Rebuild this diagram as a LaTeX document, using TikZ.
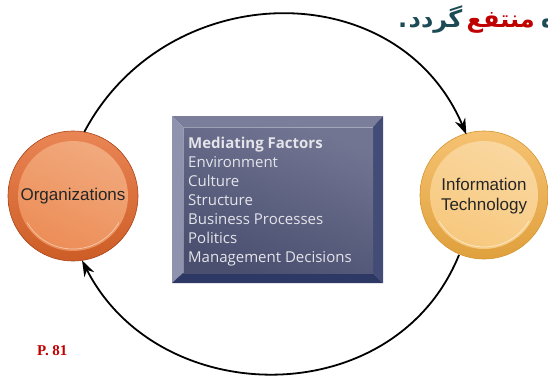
\documentclass[tikz,border=0pt]{standalone}
\usepackage{fontspec}
\setmainfont{Liberation Sans}
\newfontfamily\boxfont{Open Sans}
\newfontfamily\pagefont{Liberation Serif}
\newfontfamily\arabicfont[Script=Arabic]{DejaVu Sans}
\TeXXeTstate=1
\usetikzlibrary{arrows.meta,positioning}
\definecolor{orgring}{HTML}{E4672A}
\definecolor{orgface}{HTML}{EF9A66}
\definecolor{orgedge}{HTML}{A9461E}
\definecolor{itring}{HTML}{F3AE42}
\definecolor{itface}{HTML}{F8CD88}
\definecolor{itedge}{HTML}{D39530}
\definecolor{bevtop}{HTML}{7A7E9A}
\definecolor{bevleft}{HTML}{9093AE}
\definecolor{bevright}{HTML}{434C76}
\definecolor{bevbottom}{HTML}{2E3864}
\definecolor{facetop}{HTML}{727592}
\definecolor{facebot}{HTML}{4A4F70}
\definecolor{boxtext}{HTML}{E4E4EA}
\definecolor{pred}{HTML}{C00000}
\definecolor{pteal}{HTML}{1D4B55}

\begin{document}
\begin{tikzpicture}[x=1pt,y=-1pt,
    flow/.style={line width=1.8pt,-{Stealth[length=16pt,width=11pt]}},
    disc/.style={circle,inner sep=0pt,outer sep=0pt,minimum size=#1,align=center,
      font=\fontsize{17}{20}\selectfont,text=black!85},
    farsi/.style={inner sep=0pt,font=\arabicfont\bfseries\fontsize{24}{28}\selectfont}]
  \useasboundingbox (0,0) rectangle (548,375);
  \clip (0,0) rectangle (548,375);
  % organizations
  \shade[top color=orgring!80!white,bottom color=orgring!90!black,draw=orgedge,line width=0.6pt] (73,196) circle [radius=65];
  \shade[top color=orgface!85!white,bottom color=orgface!75!orgring,shading angle=-25] (73,196) circle [radius=55];
  \draw[white,opacity=0.5,line width=0.7pt] (73,196) ++(150:53) arc [start angle=150,end angle=30,radius=53];
  \node[disc=130pt] (org) at (73,196) {Organizations};
  % information technology
  \shade[top color=itring!75!white,bottom color=itring!92!black,draw=itedge,line width=0.6pt] (484,195) circle [radius=64];
  \shade[top color=itface!80!white,bottom color=itface!85!itring,shading angle=-25] (484,195) circle [radius=54];
  \draw[white,opacity=0.6,line width=0.7pt] (484,195) ++(150:52) arc [start angle=150,end angle=30,radius=52];
  \node[disc=128pt] (itech) at (484,196) {Information\\Technology};
  % mediating factors box
  \fill[bevtop] (172,116) -- (383,116) -- (373,127) -- (183,127) -- cycle;
  \fill[bevleft] (172,116) -- (183,127) -- (183,273) -- (172,283) -- cycle;
  \fill[bevright] (383,116) -- (383,283) -- (373,273) -- (373,127) -- cycle;
  \fill[bevbottom] (172,283) -- (183,273) -- (373,273) -- (383,283) -- cycle;
  \shade[top color=facetop,bottom color=facebot,shading angle=-20] (183,127) rectangle (373,273);
  \draw[white,opacity=0.35,line width=0.6pt] (183.5,273) -- (183.5,127.5) -- (373,127.5);
  \node[anchor=north west,align=left,inner sep=0pt,text=boxtext,
    font=\boxfont\fontsize{15}{19}\selectfont] (mediate) at (188,137) {%
    \textbf{Mediating Factors}\\Environment\\Culture\\Structure\\Business Processes\\Politics\\Management Decisions};
  % cycle arrows
  \draw[flow] (org.80) .. controls +(82,-155) and +(-69,-162) .. (itech.106);
  \draw[flow] (itech.247) .. controls +(-64,158) and +(77,151) .. (org.-82);
  % captions (words set one by one, right to left)
  \node[farsi,text=pteal,anchor=base west] (stop) at (398,27) {.};
  \node[farsi,text=pteal,base right=1pt of stop] (become) {گردد};
  \node[farsi,text=pred,base right=4pt of become] (benefit) {منتفع};
  \node[farsi,text=pteal,base right=6pt of benefit] (cut) {ه};
  \node[anchor=base west,inner sep=0pt,text=pred,font=\pagefont\bfseries\fontsize{15}{18}\selectfont] (page) at (37,355) {P. 81};
\end{tikzpicture}
\end{document}
